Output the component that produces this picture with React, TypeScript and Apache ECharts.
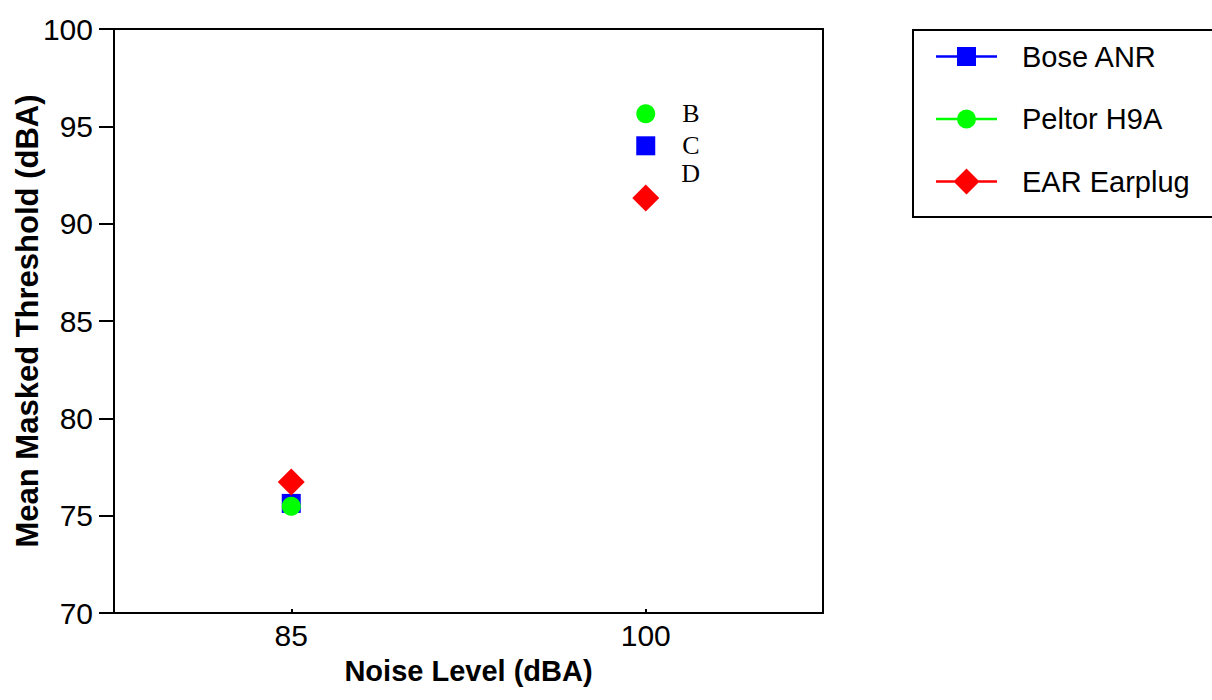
import React, { useEffect, useRef } from "react";
import * as echarts from "echarts";

const noiseLevels = ["85", "100"];
const boseANR = [75.63, 94.0];
const peltorH9A = [75.48, 95.65];
const earEarplug = [76.73, 91.32];
const pointNotes = ["B", "C", "D"];
const yTicks = { min: 70, max: 100, interval: 5 };

const SANS = "'Liberation Sans', Arial, Helvetica, sans-serif";
const SERIF = "'Liberation Serif', 'Times New Roman', serif";

const iconSquare =
  "path://M0,8.25H61V10.75H0Z M21,0H40V19H21Z";
const iconCircle =
  "path://M0,8.25H61V10.75H0Z M21,9.5A9.5,9.5 0 1,1 40,9.5A9.5,9.5 0 1,1 21,9.5Z";
const iconDiamond =
  "path://M0,11.75H61V14.25H0Z M30.5,0L43.5,13L30.5,26L17.5,13Z";

export default function App() {
  const ref = useRef<HTMLDivElement>(null);
  useEffect(() => {
    if (!ref.current) return;
    const chart = echarts.init(ref.current, null, { renderer: "svg" });
    const noteLabel = (text: string, extra: any) => ({
      show: true,
      formatter: text,
      position: "right",
      color: "#000",
      fontFamily: SERIF,
      fontSize: 26,
      ...extra,
    });
    const frameAxis = {
      show: true,
      axisLine: { show: true, onZero: false, lineStyle: { color: "#000", width: 2 } },
      axisTick: { show: false },
      axisLabel: { show: false },
      splitLine: { show: false },
    };
    chart.setOption({
      animation: false,
      backgroundColor: "#fff",
      grid: {
        left: 114,
        right: 389,
        top: 29,
        bottom: 87,
        show: false,
        containLabel: false,
        outerBoundsMode: "none",
      },
      graphic: [
        {
          type: "rect",
          shape: { x: 913, y: 30, width: 330, height: 187 },
          style: { fill: "none", stroke: "#000", lineWidth: 2 },
        },
      ],
      legend: {
        orient: "vertical",
        left: 936,
        top: 42,
        padding: 0,
        itemWidth: 61,
        itemHeight: 26,
        itemGap: 33.5,
        selectedMode: false,
        textStyle: {
          fontFamily: SANS,
          fontSize: 29,
          color: "#000",
          lineHeight: 26,
          padding: [0, 0, 0, 20],
        },
        data: [
          { name: "Bose ANR", icon: iconSquare },
          { name: "Peltor H9A", icon: iconCircle },
          { name: "EAR Earplug", icon: iconDiamond },
        ],
      },
      xAxis: [
        {
          type: "category",
          data: noiseLevels,
          position: "bottom",
          boundaryGap: true,
          name: "Noise Level (dBA)",
          nameLocation: "middle",
          nameGap: 43,
          nameMoveOverlap: false,
          nameTextStyle: {
            fontFamily: SANS,
            fontSize: 29,
            fontWeight: "bold",
            color: "#000",
          },
          axisLine: { show: true, onZero: false, lineStyle: { color: "#000", width: 2 } },
          axisTick: {
            show: true,
            inside: true,
            length: 4,
            alignWithLabel: true,
            interval: 0,
            lineStyle: { color: "#000", width: 2 },
          },
          axisLabel: { fontFamily: SANS, fontSize: 30, color: "#000", margin: 7 },
          splitLine: { show: false },
        },
        { type: "category", data: noiseLevels, position: "top", ...frameAxis },
      ],
      yAxis: [
        {
          type: "value",
          min: yTicks.min,
          max: yTicks.max,
          interval: yTicks.interval,
          position: "left",
          name: "Mean Masked Threshold (dBA)",
          nameLocation: "middle",
          nameGap: 71,
          nameMoveOverlap: false,
          nameTextStyle: {
            fontFamily: SANS,
            fontSize: 31,
            fontWeight: "bold",
            color: "#000",
          },
          axisLine: { show: true, onZero: false, lineStyle: { color: "#000", width: 2 } },
          axisTick: {
            show: true,
            inside: false,
            length: 15,
            lineStyle: { color: "#000", width: 2 },
          },
          axisLabel: { fontFamily: SANS, fontSize: 30, color: "#000", margin: 21 },
          splitLine: { show: false },
        },
        {
          type: "value",
          min: yTicks.min,
          max: yTicks.max,
          interval: yTicks.interval,
          position: "right",
          ...frameAxis,
        },
      ],
      series: [
        {
          name: "Bose ANR",
          type: "scatter",
          symbol: "rect",
          symbolSize: 19,
          itemStyle: { color: "#0000FF", opacity: 1 },
          data: [
            boseANR[0],
            { value: boseANR[1], label: noteLabel(pointNotes[1], { distance: 27 }) },
          ],
        },
        {
          name: "Peltor H9A",
          type: "scatter",
          symbol: "circle",
          symbolSize: 19,
          itemStyle: { color: "#00FF00", opacity: 1 },
          data: [
            peltorH9A[0],
            { value: peltorH9A[1], label: noteLabel(pointNotes[0], { distance: 27 }) },
          ],
        },
        {
          name: "EAR Earplug",
          type: "scatter",
          symbol: "diamond",
          symbolSize: 27,
          itemStyle: { color: "#FF0000", opacity: 1 },
          data: [
            earEarplug[0],
            {
              value: earEarplug[1],
              label: noteLabel(pointNotes[2], { distance: 22, offset: [0, -24] }),
            },
          ],
        },
      ],
    });
    return () => chart.dispose();
  }, []);
  return (
    <div
      ref={ref}
      style={{ position: "fixed", left: 0, top: 0, width: 1212, height: 700 }}
    />
  );
}
